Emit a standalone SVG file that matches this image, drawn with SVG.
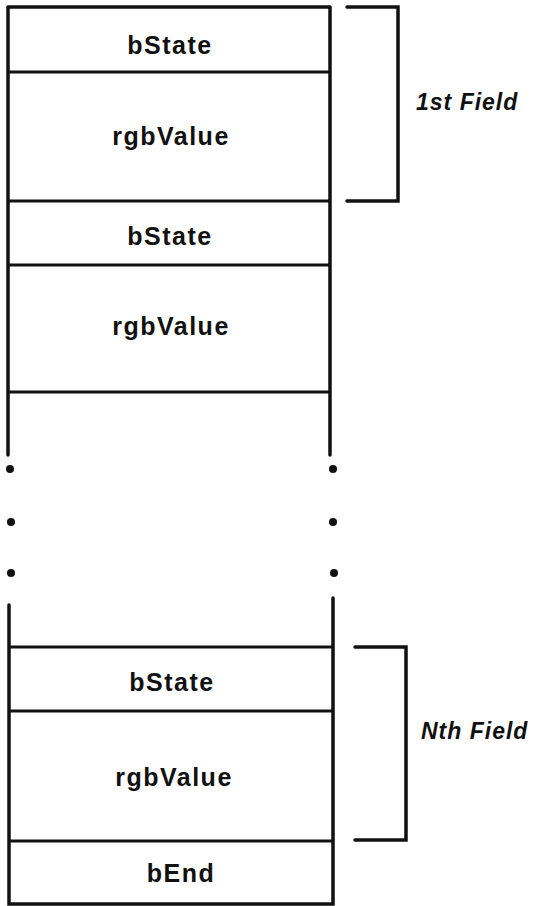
<svg xmlns="http://www.w3.org/2000/svg" width="535" height="906" viewBox="0 0 535 906">
<style>
.bg{fill:#ffffff}
.ln{stroke:#111;stroke-width:3.5;fill:none;stroke-linecap:round}
.hl{stroke:#111;stroke-width:2.8;fill:none}
.t{font-family:"Liberation Sans",Arial,sans-serif;font-size:25px;font-weight:bold;fill:#111;text-anchor:middle;letter-spacing:1.5px}
.lab{font-family:"Liberation Sans",Arial,sans-serif;font-size:23px;font-weight:bold;font-style:italic;fill:#111;letter-spacing:1px}
.dot{fill:#111}
</style>
<rect class="bg" x="0" y="0" width="535" height="906"/>
<g id="top-frame">
<path class="ln" d="M8,7 H330 M8,7 V455 M330,7 V455"/>
</g>
<g id="field1-bState">
<line class="hl" x1="8" y1="72" x2="330" y2="72"/>
<text class="t" x="170" y="54">bState</text>
</g>
<g id="field1-rgbValue">
<line class="hl" x1="8" y1="201" x2="330" y2="201"/>
<text class="t" x="171" y="145">rgbValue</text>
</g>
<g id="field2-bState">
<line class="hl" x1="8" y1="265" x2="330" y2="265"/>
<text class="t" x="170" y="245">bState</text>
</g>
<g id="field2-rgbValue">
<line class="hl" x1="8" y1="392" x2="330" y2="392"/>
<text class="t" x="171" y="335">rgbValue</text>
</g>
<g id="ellipsis">
<circle class="dot" cx="10" cy="469" r="4"/>
<circle class="dot" cx="11" cy="522" r="4"/>
<circle class="dot" cx="11" cy="573" r="4"/>
<circle class="dot" cx="333" cy="469" r="4"/>
<circle class="dot" cx="333" cy="522" r="4"/>
<circle class="dot" cx="334" cy="573" r="4"/>
</g>
<g id="bottom-frame">
<path class="ln" d="M9,605 V904 H333 V598"/>
</g>
<g id="fieldN-bState">
<line class="hl" x1="9" y1="647" x2="332" y2="647"/>
<text class="t" x="172" y="691">bState</text>
</g>
<g id="fieldN-rgbValue">
<line class="hl" x1="9" y1="711" x2="332" y2="711"/>
<text class="t" x="174" y="786">rgbValue</text>
</g>
<g id="bEnd">
<line class="hl" x1="9" y1="841" x2="333" y2="841"/>
<text class="t" x="181" y="882">bEnd</text>
</g>
<g id="connectors">
<path class="ln" d="M347,7 H398 V201 H347"/>
<path class="ln" d="M355,647 H406 V840 H355"/>
</g>
<g id="label-1st">
<text class="lab" x="416" y="110">1st Field</text>
</g>
<g id="label-Nth">
<text class="lab" x="421" y="739">Nth Field</text>
</g>
</svg>
